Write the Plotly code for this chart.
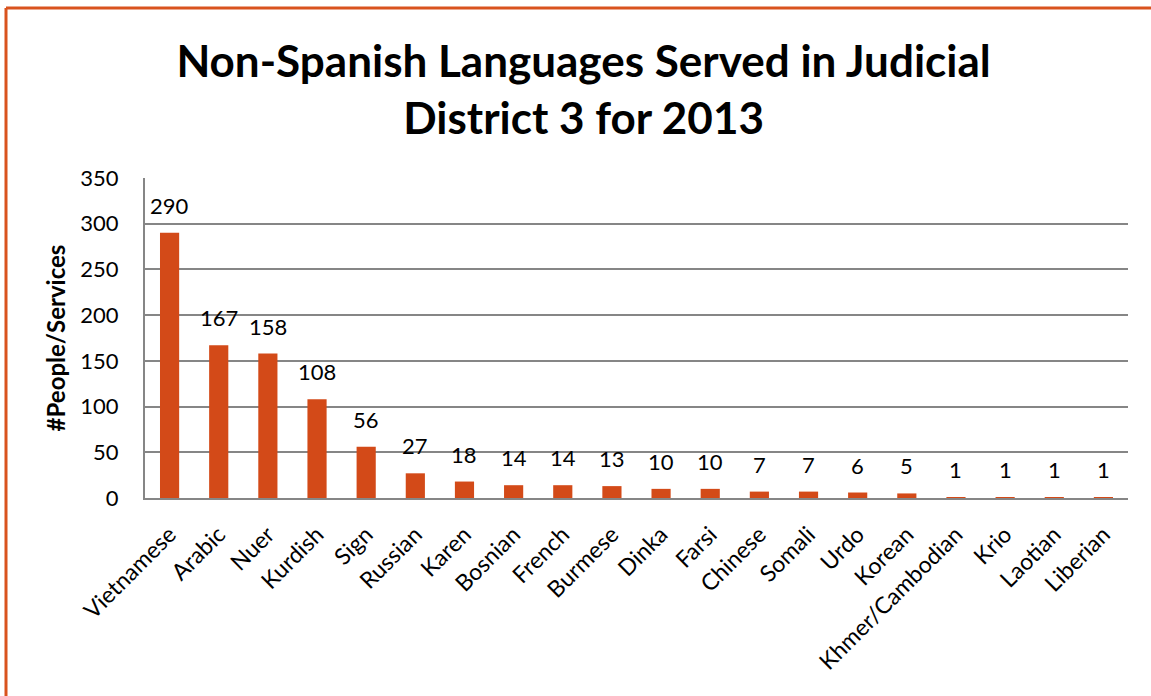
import plotly.graph_objects as go

languages = ["Vietnamese", "Arabic", "Nuer", "Kurdish", "Sign", "Russian", "Karen", "Bosnian",
             "French", "Burmese", "Dinka", "Farsi", "Chinese", "Somali", "Urdo", "Korean",
             "Khmer/Cambodian", "Krio", "Laotian", "Liberian"]
counts = [290, 167, 158, 108, 56, 27, 18, 14, 14, 13, 10, 10, 7, 7, 6, 5, 1, 1, 1, 1]
y_ticks = [0, 50, 100, 150, 200, 250, 300, 350]

W, H = 1151, 696
ML, MR, MT, MB = 145, 23, 178, 198
FONT = "Lato"
BAR = "#D34A18"

fig = go.Figure(go.Bar(
    x=languages, y=counts,
    marker=dict(color=BAR, line=dict(width=0)),
))

for lang, v in zip(languages, counts):
    fig.add_annotation(x=lang, y=v, text=str(v), showarrow=False,
                       xanchor="center", yanchor="bottom", yshift=12,
                       font=dict(family=FONT, size=22, color="black"))

pw = W - ML - MR
ph = H - MT - MB
def px_x(p):
    return (p - ML) / pw
def px_y(p):
    return (H - MB - p) / ph

fig.update_layout(
    width=W, height=H,
    margin=dict(l=ML, r=MR, t=MT, b=MB),
    paper_bgcolor="white", plot_bgcolor="white",
    bargap=0.61,
    showlegend=False,
    font=dict(family=FONT, color="black"),
    title=dict(text="<b>Non-Spanish Languages Served in Judicial<br>District 3 for 2013</b>",
               x=0.507, xanchor="center", y=0.89, yanchor="middle",
               font=dict(family=FONT, size=44, color="black")),
    xaxis=dict(tickangle=-45, tickfont=dict(family=FONT, size=23, color="black"),
               showline=True, linecolor="#868686", linewidth=2, ticks="",
               showgrid=False, ticklabelstandoff=12),
    yaxis=dict(range=[0, 350], tickvals=y_ticks, tickfont=dict(family=FONT, size=22, color="black"),
               showgrid=True, gridcolor="#868686", gridwidth=1.5,
               showline=True, linecolor="#868686", linewidth=2, ticks="",
               zeroline=False, ticklen=0, ticklabelstandoff=20,
               title=dict(text="<b>#People/Services</b>", font=dict(family=FONT, size=24, color="black"),
                          standoff=8)),
    shapes=[
        dict(type="line", xref="paper", yref="paper",
             x0=px_x(6), x1=px_x(W + 5), y0=px_y(8), y1=px_y(8),
             line=dict(color="#D9531E", width=3)),
        dict(type="line", xref="paper", yref="paper",
             x0=px_x(6), x1=px_x(6), y0=px_y(8), y1=px_y(H + 5),
             line=dict(color="#D9531E", width=3)),
    ],
)

fig.write_html("out.html", config={"displayModeBar": False},
               post_script="document.body.style.margin='0';")
